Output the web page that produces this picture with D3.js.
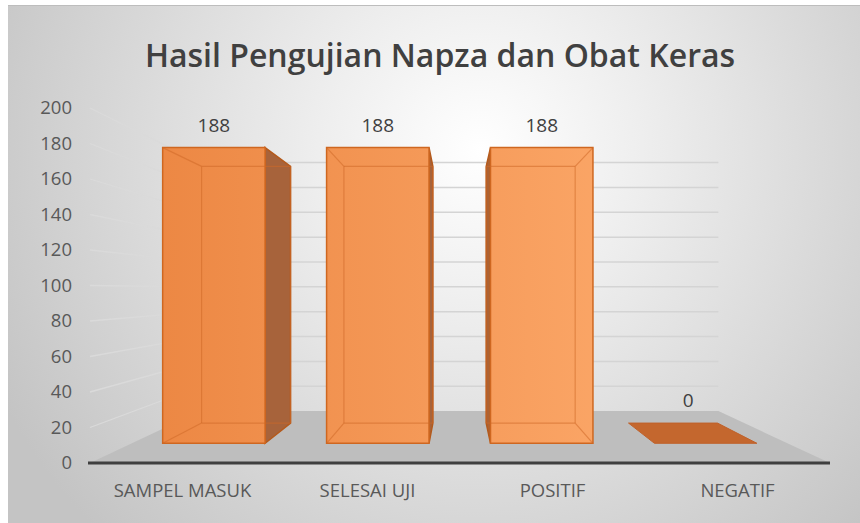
<!DOCTYPE html>
<html>
<head>
<meta charset="utf-8">
<script src="https://cdn.jsdelivr.net/npm/d3@7"></script>
<style>
  body { margin: 0; background: #fff; }
  text { font-family: "Open Sans", sans-serif; }
</style>
</head>
<body>
<div id="chart"></div>
<script>
// Chart data
const title = 'Hasil Pengujian Napza dan Obat Keras';
const categories = ['SAMPEL MASUK', 'SELESAI UJI', 'POSITIF', 'NEGATIF'];
const values = [188, 188, 188, 0];
const yTicks = [0, 20, 40, 60, 80, 100, 120, 140, 160, 180, 200];

const W = 860, H = 523;

// 3D perspective settings (front plane -> back wall)
const vp = { x: 458, y: 290 };
const backScale = 0.7;
const barDepth = [0.3, 0.7];

const svg = d3.select('#chart').append('svg')
    .attr('width', W)
    .attr('height', H);

const defs = svg.append('defs');
const bg = defs.append('radialGradient')
    .attr('id', 'bg')
    .attr('gradientUnits', 'userSpaceOnUse')
    .attr('cx', 480).attr('cy', 150).attr('r', 540);
bg.append('stop').attr('offset', 0).attr('stop-color', '#ffffff');
bg.append('stop').attr('offset', 0.3).attr('stop-color', '#eeeeee');
bg.append('stop').attr('offset', 1).attr('stop-color', '#c4c4c4');

const barFill = defs.append('linearGradient')
    .attr('id', 'barFill')
    .attr('gradientUnits', 'userSpaceOnUse')
    .attr('x1', 150).attr('x2', 620).attr('y1', 0).attr('y2', 0);
barFill.append('stop').attr('offset', 0).attr('stop-color', '#ec8743');
barFill.append('stop').attr('offset', 1).attr('stop-color', '#fba667');

// chart background
svg.append('rect')
    .attr('x', 8).attr('y', 5)
    .attr('width', W - 8).attr('height', H - 5)
    .attr('fill', 'url(#bg)');
svg.append('line')
    .attr('x1', 8).attr('x2', W).attr('y1', 5.5).attr('y2', 5.5)
    .attr('stroke', '#bdbdbd');

// scales on the front plane
const x = d3.scaleBand()
    .domain(categories)
    .range([90, 830])
    .paddingInner(0.375)
    .paddingOuter(0.1875);

const y = d3.scaleLinear()
    .domain([0, 200])
    .range([463, 108]);

function proj(px, py, d) {
    const s = 1 / (1 + d * (1 / backScale - 1));
    return [vp.x + (px - vp.x) * s, vp.y + (py - vp.y) * s];
}

const left = x.range()[0], right = x.range()[1];

// floor
const floorPts = [proj(left, y(0), 0), proj(right, y(0), 0), proj(right, y(0), 1), proj(left, y(0), 1)];
svg.append('polygon')
    .attr('points', floorPts.map(p => p.join(',')).join(' '))
    .attr('fill', '#bebebe');

// gridlines: side wall and back wall
const grid = svg.append('g');
grid.selectAll('.side')
    .data(yTicks.filter(v => v > 0))
    .enter()
    .append('line')
    .attr('x1', v => proj(left, y(v), 0)[0])
    .attr('y1', v => proj(left, y(v), 0)[1])
    .attr('x2', v => proj(left, y(v), 1)[0])
    .attr('y2', v => proj(left, y(v), 1)[1])
    .attr('stroke', '#dadada')
    .attr('stroke-width', 1.3);
grid.selectAll('.back')
    .data(yTicks.filter(v => v > 0))
    .enter()
    .append('line')
    .attr('x1', v => proj(left, y(v), 1)[0])
    .attr('y1', v => proj(left, y(v), 1)[1])
    .attr('x2', v => proj(right, y(v), 1)[0])
    .attr('y2', v => proj(right, y(v), 1)[1])
    .attr('stroke', '#d4d4d4')
    .attr('stroke-width', 1.5);

// front floor edge
svg.append('line')
    .attr('x1', left - 2).attr('x2', right)
    .attr('y1', y(0)).attr('y2', y(0))
    .attr('stroke', '#3f3f3f')
    .attr('stroke-width', 3);

// bars
const poly = pts => pts.map(p => p.join(',')).join(' ');
const bars = svg.append('g');

categories.forEach((c, i) => {
    const xa = x(c), xb = x(c) + x.bandwidth();
    const ya = y(0), yb = y(values[i]);
    const [d0, d1] = barDepth;
    const g = bars.append('g');

    const F = [proj(xa, yb, d0), proj(xb, yb, d0), proj(xb, ya, d0), proj(xa, ya, d0)];
    const B = [proj(xa, yb, d1), proj(xb, yb, d1), proj(xb, ya, d1), proj(xa, ya, d1)];

    if (values[i] === 0) {
        // flat top face on the floor
        g.append('polygon')
            .attr('points', poly([F[3], F[2], B[2], B[3]]))
            .attr('fill', '#c4672e')
            .attr('stroke', '#c0612a')
            .attr('stroke-width', 1);
        return;
    }

    // visible side face
    if (xb < vp.x) {
        g.append('polygon')
            .attr('points', poly([F[1], B[1], B[2], F[2]]))
            .attr('fill', '#a7633b')
            .attr('stroke', '#b45a1c')
            .attr('stroke-width', 1.5);
    } else if (xa > vp.x) {
        g.append('polygon')
            .attr('points', poly([F[0], B[0], B[3], F[3]]))
            .attr('fill', '#ad6233')
            .attr('stroke', '#b45a1c')
            .attr('stroke-width', 1.5);
    }

    // front face
    g.append('polygon')
        .attr('points', poly(F))
        .attr('fill', 'url(#barFill)')
        .attr('stroke', '#cf6720')
        .attr('stroke-width', 1.5);

    // hidden edges seen through the face
    const hidden = [[B[0], B[1]], [B[1], B[2]], [B[2], B[3]], [B[3], B[0]]];
    if (xb < vp.x) hidden.push([F[0], B[0]], [F[3], B[3]]);
    else if (xa > vp.x) hidden.push([F[1], B[1]], [F[2], B[2]]);
    g.selectAll('.edge')
        .data(hidden)
        .enter()
        .append('line')
        .attr('x1', d => d[0][0]).attr('y1', d => d[0][1])
        .attr('x2', d => d[1][0]).attr('y2', d => d[1][1])
        .attr('stroke', '#d06a28')
        .attr('stroke-opacity', 0.55)
        .attr('stroke-width', 1.2);
});

// data labels
svg.append('g')
    .selectAll('text')
    .data(categories)
    .enter()
    .append('text')
    .attr('text-anchor', 'middle')
    .attr('font-size', 19)
    .attr('fill', '#404040')
    .each(function(c, i) {
        const cx = x(c) + x.bandwidth() / 2;
        const yb = y(values[i]);
        let px, top;
        if (yb > vp.y) {
            px = proj(cx, yb, 0.5)[0];
            top = proj(cx, yb, barDepth[1])[1];
        } else {
            px = proj(cx, yb, barDepth[0])[0];
            top = proj(cx, yb, barDepth[0])[1];
        }
        d3.select(this).attr('x', px).attr('y', top - 16);
    })
    .text((c, i) => values[i]);

// value axis
const yAxis = svg.append('g')
    .attr('transform', 'translate(74,0)')
    .call(d3.axisLeft(y).tickValues(yTicks).tickSize(0).tickPadding(2));
yAxis.select('.domain').remove();
yAxis.selectAll('text')
    .style('font-family', '"Open Sans", sans-serif')
    .style('font-size', '18.5px')
    .attr('fill', '#595959');

// category axis
const xAxis = svg.append('g')
    .attr('transform', `translate(0,${y(0)})`)
    .call(d3.axisBottom(x).tickSize(0).tickPadding(21));
xAxis.select('.domain').remove();
xAxis.selectAll('text')
    .style('font-family', '"Open Sans", sans-serif')
    .style('font-size', '18.5px')
    .attr('fill', '#595959');

// title
svg.append('text')
    .attr('x', 440)
    .attr('y', 67)
    .attr('text-anchor', 'middle')
    .attr('font-size', 32)
    .attr('font-weight', 600)
    .attr('fill', '#404040')
    .text(title);
</script>
</body>
</html>
